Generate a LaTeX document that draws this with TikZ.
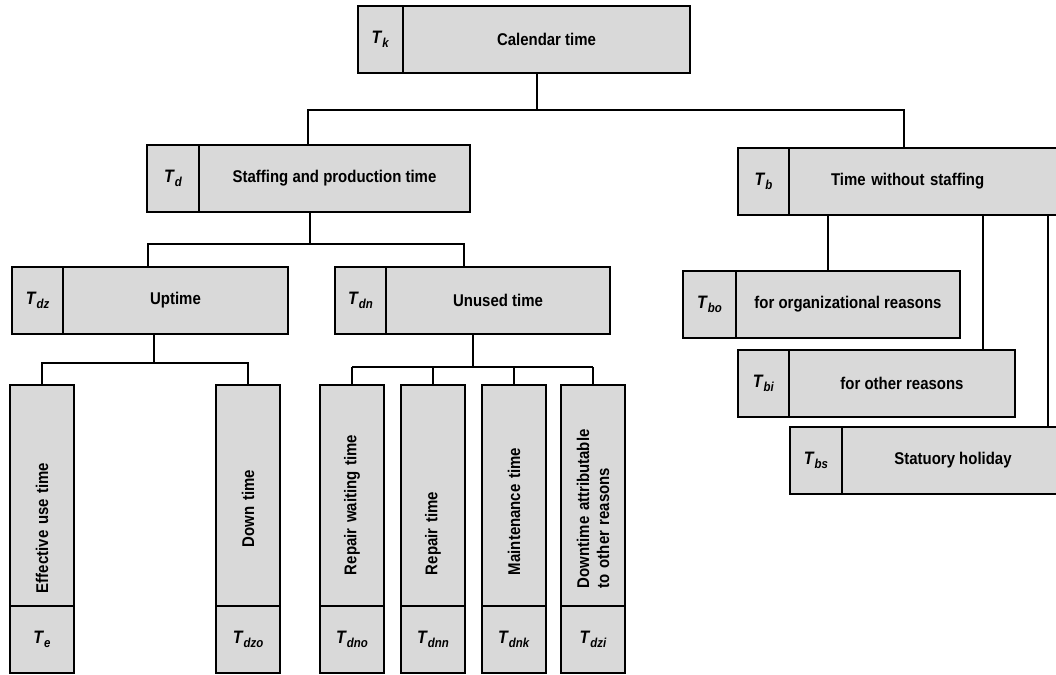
\documentclass[tikz,border=0pt]{standalone}
\usepackage{fontspec}
\setmainfont{Liberation Sans}[FakeStretch=0.88]
\usetikzlibrary{positioning}
\definecolor{cellgray}{RGB}{217,217,217}
\newcommand{\tsym}[1]{{\fontsize{18}{20}\selectfont\textit{T}}\raisebox{-4pt}{\fontsize{13}{14}\selectfont\textit{#1}}}

\begin{document}
\begin{tikzpicture}[x=1pt,y=-1pt,font=\fontsize{17}{20}\selectfont\bfseries,
	cell/.style={draw,fill=cellgray,line width=2.2pt,inner sep=0pt,outer sep=0pt,minimum height=67},
	tag/.style={cell,anchor=north west,minimum width=#1},
	vtxt/.style 2 args={cell,rotate=90,anchor=west,minimum width=221,minimum height=64,
		inner xsep=#1,text width=#2,align=left},
	line/.style={line width=1.8pt}]
	\useasboundingbox (0,0) rectangle (1056,674);
	
	\node[tag=45](Tk) at (358,6) {\tsym{k}};
	\node[cell,minimum width=287](cal)[right=0pt of Tk]{Calendar time};
	
	\node[tag=52](Td) at (147,145) {\tsym{d}};
	\node[cell,minimum width=271](stf)[right=0pt of Td]{Staffing and production time};
	\node[tag=51](Tb) at (738,148) {\tsym{b}};
	\node[cell,minimum width=276,inner xsep=42,text width=192,align=left](nst)[right=0pt of Tb]{Time without staffing};
	
	\node[tag=51](Tdz) at (12,267) {\tsym{dz}};
	\node[cell,minimum width=225](upt)[right=0pt of Tdz]{Uptime};
	\node[tag=51](Tdn) at (335,267) {\tsym{dn}};
	\node[cell,minimum width=224](unu)[right=0pt of Tdn]{Unused time};
	
	\node[tag=53](Tbo) at (683,271) {\tsym{bo}};
	\node[cell,minimum width=224](org)[right=0pt of Tbo]{for organizational reasons};
	\node[tag=51](Tbi) at (738,350) {\tsym{bi}};
	\node[cell,minimum width=226](oth)[right=0pt of Tbi]{for other reasons};
	\node[tag=52](Tbs) at (790,427) {\tsym{bs}};
	\node[cell,minimum width=222](hol)[right=0pt of Tbs]{Statuory holiday};
	
	\node[tag=64](Te) at (10,606) {\tsym{e}};
	\node[vtxt={13}{195}](eff) at (Te.north) {Effective use time};
	\node[tag=64](Tdzo) at (216,606) {\tsym{dzo}};
	\node[vtxt={59}{103}](dwn) at (Tdzo.north) {Down time};
	\node[tag=64](Tdno) at (320,606) {\tsym{dno}};
	\node[vtxt={31}{159}](rwt) at (Tdno.north) {Repair waiting time};
	\node[tag=64](Tdnn) at (401,606) {\tsym{dnn}};
	\node[vtxt={31}{159}](rpt) at (Tdnn.north) {Repair time};
	\node[tag=64](Tdnk) at (482,606) {\tsym{dnk}};
	\node[vtxt={31}{159}](mnt) at (Tdnk.north) {Maintenance time};
	\node[tag=64](Tdzi) at (561,606) {\tsym{dzi}};
	\node[vtxt={18}{185}](dta) at (Tdzi.north) {Downtime attributable\\to other reasons};
	
	\coordinate (k0) at (537,110);
	\coordinate (kL) at (308,110);
	\coordinate (kR) at (904,110);
	\coordinate (d0) at (310,244);
	\coordinate (dL) at (148,244);
	\coordinate (dR) at (464,244);
	\coordinate (u0) at (154,363);
	\coordinate (n0) at (473,367);
	\coordinate (b1) at (828,0);
	\coordinate (b2) at (983,0);
	\coordinate (b3) at (1048,0);
	
	\draw[line] (cal.south -| k0) -- (k0);
	\draw[line] (stf.north -| kL) -- (kL) -- (kR) -- (nst.north -| kR);
	\draw[line] (stf.south -| d0) -- (d0);
	\draw[line] (upt.north -| dL) -- (dL) -- (dR) -- (unu.north -| dR);
	\draw[line] (upt.south -| u0) -- (u0);
	\draw[line] (eff.east) -- (eff.east |- u0) -- (dwn.east |- u0) -- (dwn.east);
	\draw[line] (unu.south -| n0) -- (n0);
	\draw[line] (rwt.east |- n0) -- (dta.east |- n0);
	\foreach \n in {rwt,rpt,mnt,dta}
		\draw[line] (\n.east) -- (\n.east |- n0);
	\draw[line] (nst.south -| b1) -- (org.north -| b1);
	\draw[line] (nst.south -| b2) -- (oth.north -| b2);
	\draw[line] (nst.south -| b3) -- (hol.north -| b3);
\end{tikzpicture}
\end{document}
